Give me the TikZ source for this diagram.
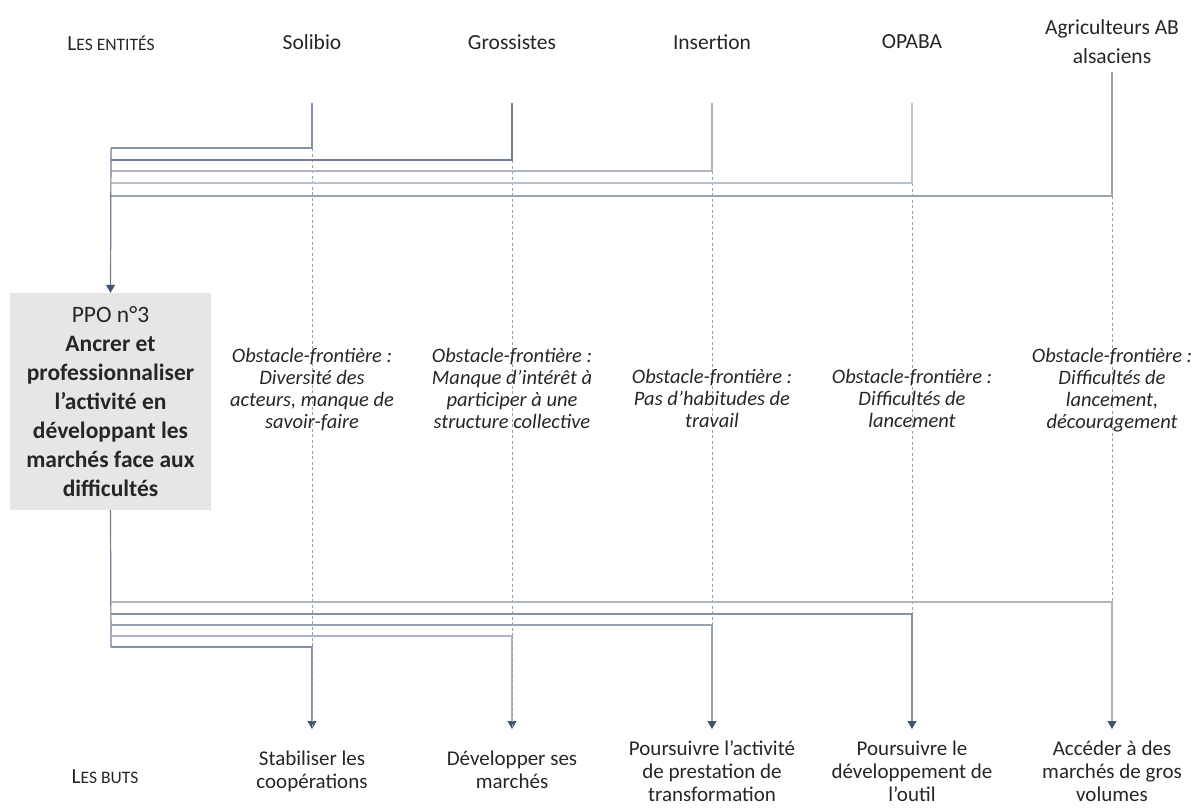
\documentclass[tikz,border=0pt]{standalone}
\usepackage{fontspec}
\setmainfont{Carlito}
\usetikzlibrary{arrows.meta}
\definecolor{txt}{HTML}{262626}
\definecolor{arrowc}{HTML}{44546A}
\definecolor{lnA}{HTML}{8891A1}
\definecolor{lnB}{HTML}{727D8F}
\definecolor{lnC}{HTML}{AEB5C1}
\definecolor{lnD}{HTML}{BCC2CC}
\definecolor{lnE}{HTML}{9AA2B0}
\definecolor{dotc}{HTML}{98A0AE}
\definecolor{boxfill}{HTML}{E6E6E6}
\begin{document}
\begin{tikzpicture}[x=1pt,y=-1pt,
  lab/.style={font=\fontsize{21.5}{29}\selectfont, text=txt, align=center, inner sep=0pt},
  obst/.style={font=\fontsize{20.5}{22}\selectfont\itshape, text=txt, align=center, inner sep=0pt,
     execute at begin node=\strut, execute at end node=\strut},
  goal/.style={font=\fontsize{21}{23}\selectfont, text=txt, align=center, inner sep=0pt,
     execute at begin node=\strut, execute at end node=\strut},
  ppobox/.style={fill=boxfill, draw=none, minimum width=201pt, minimum height=217pt, text width=200pt,
     align=flush center, inner sep=0pt, font=\fontsize{23.5}{29}\selectfont, text=txt},
  conn/.style={line width=1.2pt},
  dotl/.style={draw=dotc, line width=0.9pt, dash pattern=on 3pt off 2.5pt},
  tip/.style={-{Triangle[width=9pt,length=8pt,color=arrowc]}}
]
\useasboundingbox (0,0) rectangle (1195,809);

% entities
\node[lab] (e0) at (111,43) {L{\fontsize{17.5}{22}\selectfont ES ENTITÉS}};
\node[lab] (e1) at (312,42) {Solibio};
\node[lab] (e2) at (512,42) {Grossistes};
\node[lab] (e3) at (712,42) {Insertion};
\node[lab] (e4) at (912,42) {OPABA};
\node[lab] (e5) at (1112,42) {Agriculteurs AB\\alsaciens};

% top coordinates
\coordinate (t1) at (312,103);
\coordinate (t2) at (512,103);
\coordinate (t3) at (712,103);
\coordinate (t4) at (912,103);
\coordinate (t5) at (1112,72);
\coordinate (j1) at (312,148);
\coordinate (j2) at (512,160);
\coordinate (j3) at (712,171);
\coordinate (j4) at (912,183);
\coordinate (j5) at (1112,196);
\coordinate (l1) at (111,148);
\coordinate (l2) at (111,160);
\coordinate (l3) at (111,171);
\coordinate (l4) at (111,183);
\coordinate (l5) at (111,196);

% bottom coordinates
\coordinate (k5) at (1112,602);
\coordinate (k4) at (912,614);
\coordinate (k3) at (712,625);
\coordinate (k2) at (512,636);
\coordinate (k1) at (312,647);
\coordinate (m5) at (111,602);
\coordinate (m4) at (111,614);
\coordinate (m3) at (111,625);
\coordinate (m2) at (111,636);
\coordinate (m1) at (111,647);
\coordinate (a1) at (312,729);
\coordinate (a2) at (512,729);
\coordinate (a3) at (712,729);
\coordinate (a4) at (912,729);
\coordinate (a5) at (1112,729);

% PPO box
\node[ppobox] (ppo) at (110.5,401.5) {PPO n°3\\\textbf{Ancrer et\\professionnaliser\\l’activité en\\développant les\\marchés face aux\\difficultés}};

% dotted verticals
\foreach \i in {1,...,5} { \draw[dotl] (j\i) -- (k\i); }

% top connectors
\draw[conn, draw=lnA] (t1) -- (j1) -- (l1);
\draw[conn, draw=lnB] (t2) -- (j2) -- (l2);
\draw[conn, draw=lnC] (t3) -- (j3) -- (l3);
\draw[conn, draw=lnD] (t4) -- (j4) -- (l4);
\draw[conn, draw=lnE] (t5) -- (j5) -- (l5);
\draw[conn, draw=lnB, tip] (l1) -- (ppo.north);

% bottom connectors
\draw[conn, draw=lnB] (ppo.south) -- (m1);
\draw[conn, draw=lnC, tip] (m5) -- (k5) -- (a5);
\draw[conn, draw=lnA, tip] (m4) -- (k4) -- (a4);
\draw[conn, draw=lnE, tip] (m3) -- (k3) -- (a3);
\draw[conn, draw=lnC, tip] (m2) -- (k2) -- (a2);
\draw[conn, draw=lnA, tip] (m1) -- (k1) -- (a1);
\draw[dotl] (k1) -- (a1);
\draw[dotl] (k2) -- (a2);

% obstacles
\node[obst] (o1) at (312,392) {Obstacle-frontière :\\Diversité des\\acteurs, manque de\\savoir-faire};
\node[obst] (o2) at (512,392) {Obstacle-frontière :\\Manque d’intérêt à\\participer à une\\structure collective};
\node[obst] (o3) at (712,402) {Obstacle-frontière :\\Pas d’habitudes de\\travail};
\node[obst] (o4) at (912,402) {Obstacle-frontière :\\Difficultés de\\lancement};
\node[obst] (o5) at (1112,392) {Obstacle-frontière :\\Difficultés de\\lancement,\\découragement};

% goals
\node[lab] (b0) at (105,777) {L{\fontsize{17.5}{22}\selectfont ES BUTS}};
\node[goal] (g1) at (312,773) {Stabiliser les\\coopérations};
\node[goal] (g2) at (512,773) {Développer ses\\marchés};
\node[goal] (g3) at (712,775) {Poursuivre l’activité\\de prestation de\\transformation};
\node[goal] (g4) at (912,775) {Poursuivre le\\développement de\\l’outil};
\node[goal] (g5) at (1112,775) {Accéder à des\\marchés de gros\\volumes};
\end{tikzpicture}
\end{document}
